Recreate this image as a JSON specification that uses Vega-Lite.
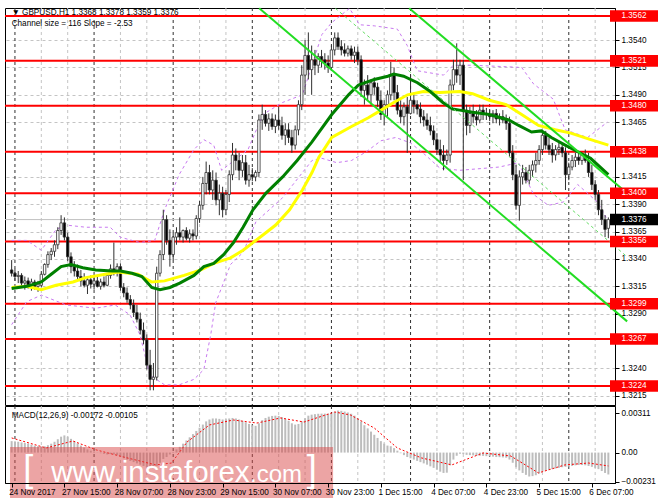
{
"$schema": "https://vega.github.io/schema/vega-lite/v6.json",
"background": "white",
"padding": {"left": 3, "top": 3, "right": 0, "bottom": 0},
"spacing": 1,
"bounds": "flush",
"config": {
  "view": {"stroke": "black", "strokeWidth": 1},
  "axis": {"labelFont": "Liberation Sans", "labelFontSize": 8.2, "labelColor": "#000000", "tickColor": "#000000", "domainColor": "#000000", "tickWidth": 1, "domainWidth": 1, "labelOverlap": false, "labelFlush": false, "labelBound": false, "labelSeparation": 0},
  "text": {"font": "Liberation Sans"}
},
"datasets": {
  "bars": [
{"i":0,"o":1.3330,"h":1.3339,"l":1.3324,"c":1.3327,"m":0.0009},
{"i":1,"o":1.3327,"h":1.3331,"l":1.3320,"c":1.3324,"m":0.00088},
{"i":2,"o":1.3324,"h":1.3329,"l":1.3318,"c":1.3325,"m":0.00085},
{"i":3,"o":1.3325,"h":1.3327,"l":1.3315,"c":1.3318,"m":0.0008},
{"i":4,"o":1.3318,"h":1.3324,"l":1.3312,"c":1.3320,"m":0.00075},
{"i":5,"o":1.3320,"h":1.3323,"l":1.3313,"c":1.3316,"m":0.0007},
{"i":6,"o":1.3316,"h":1.3322,"l":1.3311,"c":1.3319,"m":0.00062},
{"i":7,"o":1.3319,"h":1.3321,"l":1.3312,"c":1.3315,"m":0.00055},
{"i":8,"o":1.3315,"h":1.3320,"l":1.3310,"c":1.3317,"m":0.0005},
{"i":9,"o":1.3316,"h":1.3329,"l":1.3314,"c":1.3326,"m":0.00048},
{"i":10,"o":1.3326,"h":1.3336,"l":1.3325,"c":1.3335,"m":0.0005},
{"i":11,"o":1.3335,"h":1.3347,"l":1.3332,"c":1.3344,"m":0.00058},
{"i":12,"o":1.3344,"h":1.3350,"l":1.3339,"c":1.3347,"m":0.0007},
{"i":13,"o":1.3347,"h":1.3357,"l":1.3342,"c":1.3353,"m":0.00085},
{"i":14,"o":1.3353,"h":1.3369,"l":1.3349,"c":1.3366,"m":0.00105},
{"i":15,"o":1.3366,"h":1.3380,"l":1.3362,"c":1.3373,"m":0.00125},
{"i":16,"o":1.3373,"h":1.3378,"l":1.3357,"c":1.3360,"m":0.00135},
{"i":17,"o":1.3360,"h":1.3364,"l":1.3338,"c":1.3342,"m":0.00125},
{"i":18,"o":1.3342,"h":1.3346,"l":1.3327,"c":1.3333,"m":0.00108},
{"i":19,"o":1.3333,"h":1.3338,"l":1.3324,"c":1.3329,"m":0.0009},
{"i":20,"o":1.3329,"h":1.3335,"l":1.3320,"c":1.3324,"m":0.00072},
{"i":21,"o":1.3324,"h":1.3330,"l":1.3315,"c":1.3320,"m":0.00055},
{"i":22,"o":1.3320,"h":1.3327,"l":1.3314,"c":1.3316,"m":0.0004},
{"i":23,"o":1.3316,"h":1.3324,"l":1.3308,"c":1.3321,"m":0.00025},
{"i":24,"o":1.3321,"h":1.3325,"l":1.3313,"c":1.3317,"m":0.00015},
{"i":25,"o":1.3317,"h":1.3325,"l":1.3312,"c":1.3320,"m":0.00008},
{"i":26,"o":1.3320,"h":1.3324,"l":1.3314,"c":1.3315,"m":0.00002},
{"i":27,"o":1.3315,"h":1.3322,"l":1.3312,"c":1.3319,"m":-0.00005},
{"i":28,"o":1.3319,"h":1.3324,"l":1.3314,"c":1.3316,"m":-0.0001},
{"i":29,"o":1.3316,"h":1.3327,"l":1.3315,"c":1.3325,"m":-0.00015},
{"i":30,"o":1.3325,"h":1.3335,"l":1.3322,"c":1.3331,"m":-0.00012},
{"i":31,"o":1.3331,"h":1.3355,"l":1.3325,"c":1.3329,"m":-0.00015},
{"i":32,"o":1.3329,"h":1.3336,"l":1.3324,"c":1.3333,"m":-0.00022},
{"i":33,"o":1.3333,"h":1.3336,"l":1.3311,"c":1.3314,"m":-0.00035},
{"i":34,"o":1.3314,"h":1.3318,"l":1.3305,"c":1.3309,"m":-0.00045},
{"i":35,"o":1.3309,"h":1.3314,"l":1.3300,"c":1.3303,"m":-0.00055},
{"i":36,"o":1.3303,"h":1.3307,"l":1.3294,"c":1.3298,"m":-0.00065},
{"i":37,"o":1.3298,"h":1.3303,"l":1.3287,"c":1.3291,"m":-0.00075},
{"i":38,"o":1.3291,"h":1.3298,"l":1.3282,"c":1.3285,"m":-0.00085},
{"i":39,"o":1.3285,"h":1.3291,"l":1.3271,"c":1.3275,"m":-0.00095},
{"i":40,"o":1.3275,"h":1.3282,"l":1.3262,"c":1.3266,"m":-0.00105},
{"i":41,"o":1.3266,"h":1.3271,"l":1.3239,"c":1.3243,"m":-0.00115},
{"i":42,"o":1.3243,"h":1.3257,"l":1.3220,"c":1.3230,"m":-0.00125},
{"i":43,"o":1.3230,"h":1.3245,"l":1.3220,"c":1.3232,"m":-0.00125},
{"i":44,"o":1.3232,"h":1.3333,"l":1.3229,"c":1.3327,"m":-0.00105},
{"i":45,"o":1.3327,"h":1.3348,"l":1.3324,"c":1.3344,"m":-0.0008},
{"i":46,"o":1.3344,"h":1.3385,"l":1.3339,"c":1.3376,"m":-0.0005},
{"i":47,"o":1.3376,"h":1.3380,"l":1.3353,"c":1.3357,"m":-0.00035},
{"i":48,"o":1.3357,"h":1.3367,"l":1.3333,"c":1.3344,"m":-0.00015},
{"i":49,"o":1.3344,"h":1.3364,"l":1.3339,"c":1.3360,"m":0.00005},
{"i":50,"o":1.3360,"h":1.3369,"l":1.3353,"c":1.3364,"m":0.00025},
{"i":51,"o":1.3364,"h":1.3378,"l":1.3357,"c":1.3360,"m":0.00045},
{"i":52,"o":1.3360,"h":1.3367,"l":1.3355,"c":1.3366,"m":0.0007},
{"i":53,"o":1.3366,"h":1.3369,"l":1.3357,"c":1.3359,"m":0.00095},
{"i":54,"o":1.3359,"h":1.3367,"l":1.3355,"c":1.3363,"m":0.0012},
{"i":55,"o":1.3363,"h":1.3367,"l":1.3357,"c":1.3361,"m":0.00145},
{"i":56,"o":1.3361,"h":1.3380,"l":1.3358,"c":1.3377,"m":0.0017},
{"i":57,"o":1.3377,"h":1.3393,"l":1.3373,"c":1.3389,"m":0.00195},
{"i":58,"o":1.3389,"h":1.3415,"l":1.3385,"c":1.3409,"m":0.0022},
{"i":59,"o":1.3409,"h":1.3429,"l":1.3399,"c":1.3419,"m":0.00245},
{"i":60,"o":1.3419,"h":1.3426,"l":1.3399,"c":1.3403,"m":0.0026},
{"i":61,"o":1.3403,"h":1.3421,"l":1.3394,"c":1.3412,"m":0.00268},
{"i":62,"o":1.3412,"h":1.3419,"l":1.3389,"c":1.3394,"m":0.00268},
{"i":63,"o":1.3394,"h":1.3408,"l":1.3380,"c":1.3400,"m":0.00265},
{"i":64,"o":1.3400,"h":1.3406,"l":1.3378,"c":1.3385,"m":0.0026},
{"i":65,"o":1.3385,"h":1.3403,"l":1.3380,"c":1.3399,"m":0.00262},
{"i":66,"o":1.3399,"h":1.3421,"l":1.3392,"c":1.3417,"m":0.00268},
{"i":67,"o":1.3417,"h":1.3446,"l":1.3412,"c":1.3435,"m":0.00272},
{"i":68,"o":1.3435,"h":1.3441,"l":1.3421,"c":1.3430,"m":0.00268},
{"i":69,"o":1.3430,"h":1.3437,"l":1.3412,"c":1.3421,"m":0.0026},
{"i":70,"o":1.3421,"h":1.3435,"l":1.3415,"c":1.3428,"m":0.0025},
{"i":71,"o":1.3428,"h":1.3435,"l":1.3408,"c":1.3412,"m":0.00238},
{"i":72,"o":1.3412,"h":1.3426,"l":1.3406,"c":1.3417,"m":0.00225},
{"i":73,"o":1.3417,"h":1.3423,"l":1.3411,"c":1.3415,"m":0.00215},
{"i":74,"o":1.3415,"h":1.3421,"l":1.3411,"c":1.3419,"m":0.0021},
{"i":75,"o":1.3419,"h":1.3472,"l":1.3415,"c":1.3467,"m":0.0023},
{"i":76,"o":1.3467,"h":1.3481,"l":1.3458,"c":1.3472,"m":0.00255},
{"i":77,"o":1.3472,"h":1.3476,"l":1.3461,"c":1.3464,"m":0.00272},
{"i":78,"o":1.3464,"h":1.3473,"l":1.3457,"c":1.3468,"m":0.00282},
{"i":79,"o":1.3468,"h":1.3473,"l":1.3458,"c":1.3461,"m":0.00288},
{"i":80,"o":1.3461,"h":1.3472,"l":1.3455,"c":1.3467,"m":0.0029},
{"i":81,"o":1.3467,"h":1.3479,"l":1.3458,"c":1.3462,"m":0.00288},
{"i":82,"o":1.3462,"h":1.3470,"l":1.3449,"c":1.3453,"m":0.00278},
{"i":83,"o":1.3453,"h":1.3464,"l":1.3444,"c":1.3458,"m":0.00265},
{"i":84,"o":1.3458,"h":1.3464,"l":1.3446,"c":1.3451,"m":0.0025},
{"i":85,"o":1.3451,"h":1.3458,"l":1.3437,"c":1.3444,"m":0.0023},
{"i":86,"o":1.3444,"h":1.3462,"l":1.3440,"c":1.3458,"m":0.0022},
{"i":87,"o":1.3458,"h":1.3485,"l":1.3453,"c":1.3481,"m":0.00225},
{"i":88,"o":1.3481,"h":1.3517,"l":1.3476,"c":1.3508,"m":0.00245},
{"i":89,"o":1.3508,"h":1.3540,"l":1.3490,"c":1.3526,"m":0.0027},
{"i":90,"o":1.3526,"h":1.3547,"l":1.3504,"c":1.3513,"m":0.0029},
{"i":91,"o":1.3513,"h":1.3535,"l":1.3490,"c":1.3522,"m":0.00298},
{"i":92,"o":1.3522,"h":1.3531,"l":1.3508,"c":1.3517,"m":0.00302},
{"i":93,"o":1.3517,"h":1.3528,"l":1.3510,"c":1.3525,"m":0.00305},
{"i":94,"o":1.3525,"h":1.3531,"l":1.3515,"c":1.3522,"m":0.00306},
{"i":95,"o":1.3522,"h":1.3528,"l":1.3513,"c":1.3519,"m":0.00306},
{"i":96,"o":1.3519,"h":1.3526,"l":1.3510,"c":1.3515,"m":0.00305},
{"i":97,"o":1.3515,"h":1.3535,"l":1.3512,"c":1.3531,"m":0.00308},
{"i":98,"o":1.3531,"h":1.3547,"l":1.3526,"c":1.3542,"m":0.0032},
{"i":99,"o":1.3542,"h":1.3547,"l":1.3531,"c":1.3534,"m":0.0033},
{"i":100,"o":1.3534,"h":1.3540,"l":1.3526,"c":1.3531,"m":0.00328},
{"i":101,"o":1.3531,"h":1.3537,"l":1.3525,"c":1.3528,"m":0.00322},
{"i":102,"o":1.3528,"h":1.3535,"l":1.3525,"c":1.3532,"m":0.00315},
{"i":103,"o":1.3532,"h":1.3535,"l":1.3522,"c":1.3526,"m":0.00305},
{"i":104,"o":1.3526,"h":1.3534,"l":1.3519,"c":1.3529,"m":0.0029},
{"i":105,"o":1.3529,"h":1.3534,"l":1.3517,"c":1.3522,"m":0.00272},
{"i":106,"o":1.3522,"h":1.3526,"l":1.3488,"c":1.3494,"m":0.00245},
{"i":107,"o":1.3494,"h":1.3504,"l":1.3481,"c":1.3499,"m":0.00215},
{"i":108,"o":1.3499,"h":1.3508,"l":1.3485,"c":1.3490,"m":0.0019},
{"i":109,"o":1.3490,"h":1.3504,"l":1.3481,"c":1.3501,"m":0.00165},
{"i":110,"o":1.3501,"h":1.3506,"l":1.3490,"c":1.3497,"m":0.0014},
{"i":111,"o":1.3497,"h":1.3501,"l":1.3479,"c":1.3485,"m":0.00115},
{"i":112,"o":1.3485,"h":1.3494,"l":1.3467,"c":1.3472,"m":0.0009},
{"i":113,"o":1.3472,"h":1.3485,"l":1.3462,"c":1.3481,"m":0.0007},
{"i":114,"o":1.3481,"h":1.3494,"l":1.3470,"c":1.3490,"m":0.00055},
{"i":115,"o":1.3490,"h":1.3520,"l":1.3485,"c":1.3508,"m":0.0005},
{"i":116,"o":1.3508,"h":1.3515,"l":1.3485,"c":1.3492,"m":0.00035},
{"i":117,"o":1.3492,"h":1.3499,"l":1.3472,"c":1.3476,"m":0.00015},
{"i":118,"o":1.3476,"h":1.3485,"l":1.3464,"c":1.3470,"m":-0.00005},
{"i":119,"o":1.3470,"h":1.3483,"l":1.3462,"c":1.3479,"m":-0.0002},
{"i":120,"o":1.3479,"h":1.3488,"l":1.3437,"c":1.3473,"m":-0.00035},
{"i":121,"o":1.3473,"h":1.3508,"l":1.3472,"c":1.3485,"m":-0.00045},
{"i":122,"o":1.3485,"h":1.3492,"l":1.3473,"c":1.3481,"m":-0.00055},
{"i":123,"o":1.3481,"h":1.3485,"l":1.3472,"c":1.3477,"m":-0.00065},
{"i":124,"o":1.3477,"h":1.3483,"l":1.3464,"c":1.3470,"m":-0.00075},
{"i":125,"o":1.3470,"h":1.3476,"l":1.3461,"c":1.3467,"m":-0.00085},
{"i":126,"o":1.3467,"h":1.3473,"l":1.3458,"c":1.3462,"m":-0.00095},
{"i":127,"o":1.3462,"h":1.3470,"l":1.3453,"c":1.3457,"m":-0.00108},
{"i":128,"o":1.3457,"h":1.3462,"l":1.3444,"c":1.3449,"m":-0.0012},
{"i":129,"o":1.3449,"h":1.3455,"l":1.3435,"c":1.3440,"m":-0.00135},
{"i":130,"o":1.3440,"h":1.3449,"l":1.3428,"c":1.3435,"m":-0.0015},
{"i":131,"o":1.3435,"h":1.3444,"l":1.3421,"c":1.3430,"m":-0.0016},
{"i":132,"o":1.3430,"h":1.3440,"l":1.3426,"c":1.3435,"m":-0.00158},
{"i":133,"o":1.3435,"h":1.3504,"l":1.3428,"c":1.3499,"m":-0.001},
{"i":134,"o":1.3499,"h":1.3522,"l":1.3494,"c":1.3513,"m":-0.00055},
{"i":135,"o":1.3513,"h":1.3537,"l":1.3501,"c":1.3508,"m":-0.00025},
{"i":136,"o":1.3508,"h":1.3522,"l":1.3499,"c":1.3517,"m":-0.0001},
{"i":137,"o":1.3517,"h":1.3522,"l":1.3412,"c":1.3476,"m":-0.00012},
{"i":138,"o":1.3476,"h":1.3481,"l":1.3453,"c":1.3462,"m":-0.00018},
{"i":139,"o":1.3462,"h":1.3479,"l":1.3455,"c":1.3473,"m":-0.0002},
{"i":140,"o":1.3473,"h":1.3481,"l":1.3464,"c":1.3470,"m":-0.00022},
{"i":141,"o":1.3470,"h":1.3476,"l":1.3462,"c":1.3467,"m":-0.00025},
{"i":142,"o":1.3467,"h":1.3481,"l":1.3464,"c":1.3476,"m":-0.00025},
{"i":143,"o":1.3476,"h":1.3481,"l":1.3467,"c":1.3473,"m":-0.00026},
{"i":144,"o":1.3473,"h":1.3478,"l":1.3467,"c":1.3472,"m":-0.00028},
{"i":145,"o":1.3472,"h":1.3477,"l":1.3466,"c":1.3470,"m":-0.0003},
{"i":146,"o":1.3470,"h":1.3476,"l":1.3464,"c":1.3473,"m":-0.00032},
{"i":147,"o":1.3473,"h":1.3477,"l":1.3464,"c":1.3468,"m":-0.00035},
{"i":148,"o":1.3468,"h":1.3473,"l":1.3462,"c":1.3470,"m":-0.00036},
{"i":149,"o":1.3470,"h":1.3476,"l":1.3464,"c":1.3467,"m":-0.00038},
{"i":150,"o":1.3467,"h":1.3472,"l":1.3458,"c":1.3464,"m":-0.0004},
{"i":151,"o":1.3464,"h":1.3470,"l":1.3433,"c":1.3437,"m":-0.00055},
{"i":152,"o":1.3437,"h":1.3444,"l":1.3412,"c":1.3417,"m":-0.0008},
{"i":153,"o":1.3417,"h":1.3426,"l":1.3385,"c":1.3389,"m":-0.00115},
{"i":154,"o":1.3389,"h":1.3421,"l":1.3375,"c":1.3415,"m":-0.0014},
{"i":155,"o":1.3415,"h":1.3426,"l":1.3408,"c":1.3419,"m":-0.0016},
{"i":156,"o":1.3419,"h":1.3424,"l":1.3409,"c":1.3412,"m":-0.00175},
{"i":157,"o":1.3412,"h":1.3426,"l":1.3408,"c":1.3421,"m":-0.00188},
{"i":158,"o":1.3421,"h":1.3430,"l":1.3415,"c":1.3426,"m":-0.00185},
{"i":159,"o":1.3426,"h":1.3437,"l":1.3419,"c":1.3430,"m":-0.00178},
{"i":160,"o":1.3430,"h":1.3444,"l":1.3426,"c":1.3440,"m":-0.00165},
{"i":161,"o":1.3440,"h":1.3458,"l":1.3435,"c":1.3453,"m":-0.0015},
{"i":162,"o":1.3453,"h":1.3457,"l":1.3440,"c":1.3444,"m":-0.00142},
{"i":163,"o":1.3444,"h":1.3451,"l":1.3435,"c":1.3440,"m":-0.00135},
{"i":164,"o":1.3440,"h":1.3446,"l":1.3428,"c":1.3435,"m":-0.0013},
{"i":165,"o":1.3435,"h":1.3444,"l":1.3430,"c":1.3440,"m":-0.00125},
{"i":166,"o":1.3440,"h":1.3446,"l":1.3435,"c":1.3442,"m":-0.0012},
{"i":167,"o":1.3442,"h":1.3446,"l":1.3433,"c":1.3437,"m":-0.00115},
{"i":168,"o":1.3437,"h":1.3442,"l":1.3403,"c":1.3417,"m":-0.00112},
{"i":169,"o":1.3417,"h":1.3428,"l":1.3412,"c":1.3424,"m":-0.0011},
{"i":170,"o":1.3424,"h":1.3435,"l":1.3421,"c":1.3430,"m":-0.00105},
{"i":171,"o":1.3430,"h":1.3437,"l":1.3424,"c":1.3433,"m":-0.001},
{"i":172,"o":1.3433,"h":1.3437,"l":1.3426,"c":1.3430,"m":-0.00098},
{"i":173,"o":1.3430,"h":1.3437,"l":1.3426,"c":1.3435,"m":-0.00098},
{"i":174,"o":1.3435,"h":1.3440,"l":1.3428,"c":1.3430,"m":-0.001},
{"i":175,"o":1.3430,"h":1.3437,"l":1.3415,"c":1.3419,"m":-0.00105},
{"i":176,"o":1.3419,"h":1.3426,"l":1.3403,"c":1.3408,"m":-0.00112},
{"i":177,"o":1.3408,"h":1.3412,"l":1.3394,"c":1.3399,"m":-0.0012},
{"i":178,"o":1.3399,"h":1.3403,"l":1.3380,"c":1.3385,"m":-0.0013},
{"i":179,"o":1.3385,"h":1.3394,"l":1.3371,"c":1.3376,"m":-0.00145},
{"i":180,"o":1.3376,"h":1.3380,"l":1.3360,"c":1.3367,"m":-0.0016},
{"i":181,"o":1.3368,"h":1.3378,"l":1.3359,"c":1.3376,"m":-0.00172}
  ],
  "ln": [
{"s":"g","i":0,"p":1.3313},{"s":"g","i":4.6,"p":1.3315},{"s":"g","i":9,"p":1.3319},{"s":"g","i":12,"p":1.3326},{"s":"g","i":15,"p":1.3333},{"s":"g","i":18,"p":1.3335},{"s":"g","i":21.6,"p":1.3332},{"s":"g","i":25.5,"p":1.3330},{"s":"g","i":30.5,"p":1.3329},{"s":"g","i":33,"p":1.3329},{"s":"g","i":36.5,"p":1.3327},{"s":"g","i":39.5,"p":1.3324},{"s":"g","i":42.5,"p":1.3314},{"s":"g","i":45,"p":1.3312},{"s":"g","i":48,"p":1.3314},{"s":"g","i":51,"p":1.3318},{"s":"g","i":55.3,"p":1.3325},{"s":"g","i":58.3,"p":1.3333},{"s":"g","i":61.3,"p":1.3336},{"s":"g","i":64.3,"p":1.3344},{"s":"g","i":67.3,"p":1.3355},{"s":"g","i":70.2,"p":1.3369},{"s":"g","i":73.2,"p":1.3385},{"s":"g","i":77.1,"p":1.3400},{"s":"g","i":82.2,"p":1.3415},{"s":"g","i":86.6,"p":1.3430},{"s":"g","i":91.1,"p":1.3447},{"s":"g","i":97.1,"p":1.3472},{"s":"g","i":102.2,"p":1.3490},{"s":"g","i":105.2,"p":1.3499},{"s":"g","i":110,"p":1.3504},{"s":"g","i":114.1,"p":1.3507},{"s":"g","i":115.9,"p":1.3509},{"s":"g","i":118.9,"p":1.3507},{"s":"g","i":123.1,"p":1.3501},{"s":"g","i":127,"p":1.3493},{"s":"g","i":130.8,"p":1.3483},{"s":"g","i":133.8,"p":1.3477},{"s":"g","i":135.9,"p":1.3476},{"s":"g","i":139.8,"p":1.3474},{"s":"g","i":144.9,"p":1.3472},{"s":"g","i":150.8,"p":1.3467},{"s":"g","i":153.8,"p":1.3462},{"s":"g","i":157.7,"p":1.3456},{"s":"g","i":160.7,"p":1.3457},{"s":"g","i":163.7,"p":1.3451},{"s":"g","i":167.9,"p":1.3444},{"s":"g","i":171.7,"p":1.3438},{"s":"g","i":175.6,"p":1.3432},{"s":"g","i":181,"p":1.3417},
{"s":"y","i":0,"p":1.3314},{"s":"y","i":4.6,"p":1.3315},{"s":"y","i":9,"p":1.3312},{"s":"y","i":13.5,"p":1.3316},{"s":"y","i":18.6,"p":1.3319},{"s":"y","i":22.5,"p":1.3323},{"s":"y","i":28.4,"p":1.3326},{"s":"y","i":32.3,"p":1.3328},{"s":"y","i":38.3,"p":1.3326},{"s":"y","i":42.5,"p":1.3319},{"s":"y","i":46.4,"p":1.3320},{"s":"y","i":52.3,"p":1.3325},{"s":"y","i":57.4,"p":1.3330},{"s":"y","i":61.3,"p":1.3336},{"s":"y","i":66.4,"p":1.3341},{"s":"y","i":70.2,"p":1.3348},{"s":"y","i":73.2,"p":1.3355},{"s":"y","i":77.1,"p":1.3364},{"s":"y","i":80.1,"p":1.3371},{"s":"y","i":84.3,"p":1.3385},{"s":"y","i":88.2,"p":1.3403},{"s":"y","i":91.1,"p":1.3419},{"s":"y","i":93.2,"p":1.3433},{"s":"y","i":97.1,"p":1.3451},{"s":"y","i":103.1,"p":1.3461},{"s":"y","i":108.2,"p":1.3469},{"s":"y","i":112.1,"p":1.3476},{"s":"y","i":115.9,"p":1.3483},{"s":"y","i":120.1,"p":1.3490},{"s":"y","i":124.9,"p":1.3493},{"s":"y","i":129.9,"p":1.3492},{"s":"y","i":135.9,"p":1.3493},{"s":"y","i":139.8,"p":1.3491},{"s":"y","i":144.9,"p":1.3485},{"s":"y","i":150,"p":1.3481},{"s":"y","i":154.7,"p":1.3472},{"s":"y","i":159.8,"p":1.3462},{"s":"y","i":164.9,"p":1.3458},{"s":"y","i":169.6,"p":1.3455},{"s":"y","i":174.7,"p":1.3450},{"s":"y","i":181,"p":1.3444},
{"s":"bu","i":0,"p":1.3357},{"s":"bu","i":4.6,"p":1.3357},{"s":"bu","i":9,"p":1.3348},{"s":"bu","i":13.5,"p":1.3367},{"s":"bu","i":16.5,"p":1.3371},{"s":"bu","i":22.5,"p":1.3369},{"s":"bu","i":29.9,"p":1.3369},{"s":"bu","i":32.9,"p":1.3360},{"s":"bu","i":38.9,"p":1.3355},{"s":"bu","i":43.4,"p":1.3357},{"s":"bu","i":46.4,"p":1.3385},{"s":"bu","i":50.8,"p":1.3417},{"s":"bu","i":55.3,"p":1.3440},{"s":"bu","i":58.3,"p":1.3449},{"s":"bu","i":61.3,"p":1.3444},{"s":"bu","i":63.7,"p":1.3421},{"s":"bu","i":65.8,"p":1.3426},{"s":"bu","i":71.7,"p":1.3440},{"s":"bu","i":76.2,"p":1.3472},{"s":"bu","i":82.2,"p":1.3483},{"s":"bu","i":88.2,"p":1.3490},{"s":"bu","i":91.1,"p":1.3517},{"s":"bu","i":94.1,"p":1.3545},{"s":"bu","i":97.1,"p":1.3556},{"s":"bu","i":102.5,"p":1.3569},{"s":"bu","i":105.5,"p":1.3554},{"s":"bu","i":110,"p":1.3553},{"s":"bu","i":117,"p":1.3550},{"s":"bu","i":120,"p":1.3535},{"s":"bu","i":123,"p":1.3512},{"s":"bu","i":131,"p":1.3508},{"s":"bu","i":134,"p":1.3517},{"s":"bu","i":140,"p":1.3517},{"s":"bu","i":154.7,"p":1.3515},{"s":"bu","i":158.3,"p":1.3500},{"s":"bu","i":164.3,"p":1.3486},{"s":"bu","i":167.9,"p":1.3458},{"s":"bu","i":174.7,"p":1.3451},{"s":"bu","i":180.7,"p":1.3465},
{"s":"bl","i":0,"p":1.3280},{"s":"bl","i":4.6,"p":1.3301},{"s":"bl","i":9,"p":1.3307},{"s":"bl","i":16.5,"p":1.3298},{"s":"bl","i":25.5,"p":1.3295},{"s":"bl","i":31.4,"p":1.3298},{"s":"bl","i":35.9,"p":1.3289},{"s":"bl","i":38.9,"p":1.3271},{"s":"bl","i":41.9,"p":1.3234},{"s":"bl","i":46.4,"p":1.3225},{"s":"bl","i":50.8,"p":1.3225},{"s":"bl","i":55.3,"p":1.3230},{"s":"bl","i":58.3,"p":1.3239},{"s":"bl","i":60.4,"p":1.3271},{"s":"bl","i":61.9,"p":1.3300},{"s":"bl","i":66.4,"p":1.3335},{"s":"bl","i":70.2,"p":1.3346},{"s":"bl","i":74.1,"p":1.3374},{"s":"bl","i":82.2,"p":1.3396},{"s":"bl","i":91.1,"p":1.3430},{"s":"bl","i":94.1,"p":1.3432},{"s":"bl","i":98.6,"p":1.3428},{"s":"bl","i":103.1,"p":1.3430},{"s":"bl","i":107.6,"p":1.3438},{"s":"bl","i":112,"p":1.3448},{"s":"bl","i":116.5,"p":1.3451},{"s":"bl","i":121,"p":1.3446},{"s":"bl","i":125.5,"p":1.3435},{"s":"bl","i":129.9,"p":1.3423},{"s":"bl","i":135.9,"p":1.3421},{"s":"bl","i":147.9,"p":1.3424},{"s":"bl","i":153.8,"p":1.3428},{"s":"bl","i":158.3,"p":1.3399},{"s":"bl","i":162.8,"p":1.3389},{"s":"bl","i":167.3,"p":1.3392},{"s":"bl","i":171.7,"p":1.3408},{"s":"bl","i":177.7,"p":1.3392},{"s":"bl","i":180.7,"p":1.3376},
{"s":"cu","i":120.6,"p":1.3569},{"s":"cu","i":186.7,"p":1.3400},
{"s":"cm","i":98.2,"p":1.3569},{"s":"cm","i":186.7,"p":1.3342},
{"s":"cl","i":75.1,"p":1.3569},{"s":"cl","i":186.7,"p":1.3283}
  ],
  "vg": [{"i":1,"d":1},{"i":9,"d":0},{"i":17,"d":0},{"i":25,"d":1},{"i":33,"d":0},{"i":41,"d":0},{"i":49,"d":1},{"i":57,"d":0},{"i":65,"d":0},{"i":73,"d":1},{"i":81,"d":0},{"i":89,"d":0},{"i":97,"d":1},{"i":105,"d":0},{"i":113,"d":0},{"i":121,"d":1},{"i":129,"d":0},{"i":137,"d":0},{"i":145,"d":1},{"i":153,"d":0},{"i":161,"d":0},{"i":169,"d":1},{"i":177,"d":0}],
  "lv": [{"p":1.3562},{"p":1.3521},{"p":1.3480},{"p":1.3438},{"p":1.3400},{"p":1.3356},{"p":1.3299},{"p":1.3267},{"p":1.3224}],
  "sig": [{"i":0,"v":0.00115},{"i":10.5,"v":0.00036},{"i":18.6,"v":0.00091},{"i":25.8,"v":0.0002},{"i":34,"v":-0.00035},{"i":43.7,"v":-0.00097},{"i":48.5,"v":-0.00082},{"i":53.2,"v":0.00083},{"i":60,"v":0.00217},{"i":67.3,"v":0.00256},{"i":74.4,"v":0.00232},{"i":81.6,"v":0.00272},{"i":88.7,"v":0.0024},{"i":98,"v":0.00319},{"i":102.8,"v":0.00295},{"i":110,"v":0.00193},{"i":117,"v":0.00036},{"i":124.3,"v":-0.00042},{"i":133.5,"v":-0.00097},{"i":143,"v":-0.00003},{"i":151.4,"v":-0.00027},{"i":159.8,"v":-0.0016},{"i":167.8,"v":-0.00097},{"i":175,"v":-0.00082},{"i":181,"v":-0.00105}]
},
"vconcat": [
{
  "width": 610, "height": 397,
  "layer": [
    {"data": {"name": "vg"}, "transform": [{"filter": "datum.d == 0"}],
     "mark": {"type": "rule", "color": "#c4c4c4", "strokeDash": [3, 3], "strokeWidth": 1},
     "encoding": {"x": {"field": "i", "type": "quantitative", "scale": {"domain": [-0.5, 181.5], "nice": false, "zero": false}, "axis": null, "title": null}}},
    {"data": {"name": "vg"}, "transform": [{"filter": "datum.d == 1"}],
     "mark": {"type": "rule", "color": "#303030", "strokeDash": [3, 3], "strokeWidth": 1},
     "encoding": {"x": {"field": "i", "type": "quantitative", "scale": {"domain": [-0.5, 181.5], "nice": false, "zero": false}, "axis": null, "title": null}}},
    {"data": {"name": "lv"},
     "mark": {"type": "rule", "color": "#ff0000", "strokeWidth": 2},
     "encoding": {"y": {"field": "p", "type": "quantitative", "title": null, "scale": {"domain": [1.32066, 1.35693], "nice": false, "zero": false},
        "axis": {"orient": "right", "values": [1.3215, 1.324, 1.329, 1.3315, 1.334, 1.3365, 1.339, 1.3415, 1.3465, 1.349, 1.3515, 1.354], "tickCount": 40, "format": ".4f", "grid": true, "gridDash": [3, 3], "gridColor": "#c4c4c4", "tickSize": 4, "labelPadding": 2, "labelOverlap": false, "labelFlush": false, "labelBound": false, "title": null}}}},
    {"data": {"name": "ln"}, "transform": [{"filter": "datum.s == 'bu' || datum.s == 'bl'"}],
     "mark": {"type": "line", "color": "#c879f0", "strokeWidth": 1, "strokeDash": [3, 3], "clip": true},
     "encoding": {"x": {"field": "i", "type": "quantitative", "scale": {"domain": [-0.5, 181.5], "nice": false, "zero": false}, "axis": null, "title": null},
       "y": {"field": "p", "type": "quantitative", "scale": {"domain": [1.32066, 1.35693], "nice": false, "zero": false}, "title": null},
       "detail": {"field": "s"}}},
    {"data": {"values": [{}]},
     "mark": {"type": "rule", "color": "#c0c0c0", "strokeWidth": 1},
     "encoding": {"y": {"datum": 1.3376, "scale": {"domain": [1.32066, 1.35693], "nice": false, "zero": false}, "title": null}}},
    {"data": {"name": "bars"},
     "mark": {"type": "rule", "color": "#303030", "strokeWidth": 1},
     "encoding": {"x": {"field": "i", "type": "quantitative", "scale": {"domain": [-0.5, 181.5], "nice": false, "zero": false}, "axis": null, "title": null},
       "y": {"field": "l", "type": "quantitative", "scale": {"domain": [1.32066, 1.35693], "nice": false, "zero": false}, "title": null},
       "y2": {"field": "h"}}},
    {"data": {"name": "bars"},
     "mark": {"type": "bar", "width": 2.4, "stroke": "#303030", "strokeWidth": 0.8},
     "encoding": {"x": {"field": "i", "type": "quantitative", "scale": {"domain": [-0.5, 181.5], "nice": false, "zero": false}, "axis": null, "title": null},
       "y": {"field": "o", "type": "quantitative", "scale": {"domain": [1.32066, 1.35693], "nice": false, "zero": false}, "title": null},
       "y2": {"field": "c"},
       "fill": {"condition": {"test": "datum.c >= datum.o", "value": "#ffffff"}, "value": "#000000"}}},
    {"data": {"name": "ln"}, "transform": [{"filter": "datum.s == 'y'"}],
     "mark": {"type": "line", "color": "#ffff00", "strokeWidth": 3},
     "encoding": {"x": {"field": "i", "type": "quantitative", "scale": {"domain": [-0.5, 181.5], "nice": false, "zero": false}, "axis": null, "title": null},
       "y": {"field": "p", "type": "quantitative", "scale": {"domain": [1.32066, 1.35693], "nice": false, "zero": false}, "title": null}}},
    {"data": {"name": "ln"}, "transform": [{"filter": "datum.s == 'g'"}],
     "mark": {"type": "line", "color": "#008000", "strokeWidth": 3},
     "encoding": {"x": {"field": "i", "type": "quantitative", "scale": {"domain": [-0.5, 181.5], "nice": false, "zero": false}, "axis": null, "title": null},
       "y": {"field": "p", "type": "quantitative", "scale": {"domain": [1.32066, 1.35693], "nice": false, "zero": false}, "title": null}}},
    {"data": {"name": "ln"}, "transform": [{"filter": "datum.s == 'cu' || datum.s == 'cl'"}],
     "mark": {"type": "line", "color": "#22dd22", "strokeWidth": 2},
     "encoding": {"x": {"field": "i", "type": "quantitative", "scale": {"domain": [-0.5, 181.5], "nice": false, "zero": false}, "axis": null, "title": null},
       "y": {"field": "p", "type": "quantitative", "scale": {"domain": [1.32066, 1.35693], "nice": false, "zero": false}, "title": null},
       "detail": {"field": "s"}}},
    {"data": {"name": "ln"}, "transform": [{"filter": "datum.s == 'cm'"}],
     "mark": {"type": "line", "color": "#66dd66", "strokeWidth": 1, "strokeDash": [3, 3]},
     "encoding": {"x": {"field": "i", "type": "quantitative", "scale": {"domain": [-0.5, 181.5], "nice": false, "zero": false}, "axis": null, "title": null},
       "y": {"field": "p", "type": "quantitative", "scale": {"domain": [1.32066, 1.35693], "nice": false, "zero": false}, "title": null}}},
    {"data": {"name": "lv"},
     "mark": {"type": "point", "shape": "M0,-0.24L2,-0.24L2,0.24L0,0.24Z", "size": 2304, "filled": true, "color": "#ff0000", "opacity": 1, "strokeWidth": 0},
     "encoding": {"x": {"datum": 181.5, "scale": {"domain": [-0.5, 181.5], "nice": false, "zero": false}, "axis": null, "title": null},
       "y": {"field": "p", "type": "quantitative", "scale": {"domain": [1.32066, 1.35693], "nice": false, "zero": false}, "title": null}}},
    {"data": {"name": "lv"},
     "mark": {"type": "text", "color": "#ffffff", "fontSize": 8.2, "align": "center", "baseline": "middle", "dx": 24},
     "encoding": {"x": {"datum": 181.5, "scale": {"domain": [-0.5, 181.5], "nice": false, "zero": false}, "axis": null, "title": null},
       "y": {"field": "p", "type": "quantitative", "scale": {"domain": [1.32066, 1.35693], "nice": false, "zero": false}, "title": null},
       "text": {"field": "p", "type": "quantitative", "format": ".4f"}}},
    {"data": {"values": [{}]},
     "mark": {"type": "point", "shape": "M0,-0.24L2,-0.24L2,0.24L0,0.24Z", "size": 2304, "filled": true, "color": "#000000", "opacity": 1, "strokeWidth": 0},
     "encoding": {"x": {"datum": 181.5, "scale": {"domain": [-0.5, 181.5], "nice": false, "zero": false}, "axis": null, "title": null},
       "y": {"datum": 1.3376, "scale": {"domain": [1.32066, 1.35693], "nice": false, "zero": false}, "title": null}}},
    {"data": {"values": [{}]},
     "mark": {"type": "text", "color": "#ffffff", "fontSize": 8.2, "align": "center", "baseline": "middle", "dx": 24, "text": "1.3376"},
     "encoding": {"x": {"datum": 181.5, "scale": {"domain": [-0.5, 181.5], "nice": false, "zero": false}, "axis": null, "title": null},
       "y": {"datum": 1.3376, "scale": {"domain": [1.32066, 1.35693], "nice": false, "zero": false}, "title": null}}},
    {"data": {"values": [{}]},
     "mark": {"type": "text", "color": "#000000", "fontSize": 8.2, "align": "left", "baseline": "middle", "text": "▼  GBPUSD,H1  1.3368 1.3378 1.3359 1.3376"},
     "encoding": {"x": {"datum": 0, "scale": {"domain": [-0.5, 181.5], "nice": false, "zero": false}, "axis": null, "title": null},
       "y": {"datum": 1.35647, "scale": {"domain": [1.32066, 1.35693], "nice": false, "zero": false}, "title": null}}},
    {"data": {"values": [{}]},
     "mark": {"type": "text", "color": "#000000", "fontSize": 8.2, "align": "left", "baseline": "middle", "text": "Channel size = 116 Slope = -2.53"},
     "encoding": {"x": {"datum": 0, "scale": {"domain": [-0.5, 181.5], "nice": false, "zero": false}, "axis": null, "title": null},
       "y": {"datum": 1.35546, "scale": {"domain": [1.32066, 1.35693], "nice": false, "zero": false}, "title": null}}}
  ]
},
{
  "width": 610, "height": 77,
  "layer": [
    {"data": {"name": "vg"}, "transform": [{"filter": "datum.d == 0"}],
     "mark": {"type": "rule", "color": "#c4c4c4", "strokeDash": [3, 3], "strokeWidth": 1},
     "encoding": {"x": {"field": "i", "type": "quantitative", "scale": {"domain": [-0.5, 181.5], "nice": false, "zero": false}, "title": null}}},
    {"data": {"name": "vg"}, "transform": [{"filter": "datum.d == 1"}],
     "mark": {"type": "rule", "color": "#303030", "strokeDash": [3, 3], "strokeWidth": 1},
     "encoding": {"x": {"field": "i", "type": "quantitative", "scale": {"domain": [-0.5, 181.5], "nice": false, "zero": false}, "title": null}}},
    {"data": {"name": "bars"},
     "mark": {"type": "bar", "width": 2, "color": "#bdbdbd"},
     "encoding": {"x": {"field": "i", "type": "quantitative", "title": null, "scale": {"domain": [-0.5, 181.5], "nice": false, "zero": false},
         "axis": {"values": [0, 16, 32, 48, 64, 80, 96, 112, 128, 144, 160, 176], "tickCount": 40, "labelExpr": "['24 Nov 2017','27 Nov 15:00','28 Nov 07:00','28 Nov 23:00','29 Nov 15:00','30 Nov 07:00','30 Nov 23:00','1 Dec 15:00','4 Dec 07:00','4 Dec 23:00','5 Dec 15:00','6 Dec 07:00'][round(datum.value / 16)]", "labelAlign": "left", "labelOffset": -3, "tickSize": 4, "labelPadding": 1, "grid": false, "labelOverlap": false, "labelFlush": false, "labelBound": false, "zindex": 1, "title": null}},
       "y": {"field": "m", "type": "quantitative", "title": null, "scale": {"domain": [-0.00239, 0.00366], "nice": false, "zero": false},
         "axis": {"orient": "right", "values": [0.00311, 0, -0.00231], "tickCount": 10, "labelExpr": "datum.value == 0 ? '0.00' : format(datum.value, '.5f')", "grid": false, "tickSize": 4, "labelPadding": 2, "labelOverlap": false, "labelFlush": false, "labelBound": false, "title": null}},
       "y2": {"datum": 0}}},
    {"data": {"name": "sig"},
     "mark": {"type": "line", "color": "#ff0000", "strokeWidth": 1, "strokeDash": [2, 2]},
     "encoding": {"x": {"field": "i", "type": "quantitative", "scale": {"domain": [-0.5, 181.5], "nice": false, "zero": false}, "title": null},
       "y": {"field": "v", "type": "quantitative", "scale": {"domain": [-0.00239, 0.00366], "nice": false, "zero": false}, "title": null}}},
    {"data": {"values": [{}]},
     "mark": {"type": "text", "color": "#000000", "fontSize": 8.2, "align": "left", "baseline": "middle", "text": "MACD(12,26,9) -0.00172 -0.00105"},
     "encoding": {"x": {"datum": 0, "scale": {"domain": [-0.5, 181.5], "nice": false, "zero": false}, "title": null},
       "y": {"datum": 0.00287, "scale": {"domain": [-0.00239, 0.00366], "nice": false, "zero": false}, "title": null}}},
    {"data": {"values": [{}]},
     "mark": {"type": "rect", "color": "#d94a4a", "opacity": 0.5},
     "encoding": {"x": {"datum": -0.5, "scale": {"domain": [-0.5, 181.5], "nice": false, "zero": false}, "title": null},
       "x2": {"datum": 97.5},
       "y": {"datum": 0.00044, "scale": {"domain": [-0.00239, 0.00366], "nice": false, "zero": false}, "title": null},
       "y2": {"datum": -0.00356}}},
    {"data": {"values": [{}]},
     "mark": {"type": "text", "color": "#ffffff", "fontSize": 36, "font": "Liberation Sans", "align": "left", "baseline": "alphabetic", "text": "["},
     "encoding": {"x": {"datum": 3.5, "scale": {"domain": [-0.5, 181.5], "nice": false, "zero": false}, "title": null},
       "y": {"datum": -0.00223, "scale": {"domain": [-0.00239, 0.00366], "nice": false, "zero": false}, "title": null}}},
    {"data": {"values": [{}]},
     "mark": {"type": "text", "color": "#ffffff", "fontSize": 29.5, "font": "Liberation Sans", "align": "left", "baseline": "alphabetic", "text": "www.instaforex"},
     "encoding": {"x": {"datum": 12, "scale": {"domain": [-0.5, 181.5], "nice": false, "zero": false}, "title": null},
       "y": {"datum": -0.00235, "scale": {"domain": [-0.00239, 0.00366], "nice": false, "zero": false}, "title": null}}},
    {"data": {"values": [{}]},
     "mark": {"type": "text", "color": "#ffffff", "fontSize": 24, "font": "Liberation Sans", "align": "left", "baseline": "alphabetic", "text": ".com"},
     "encoding": {"x": {"datum": 72.3, "scale": {"domain": [-0.5, 181.5], "nice": false, "zero": false}, "title": null},
       "y": {"datum": -0.00235, "scale": {"domain": [-0.00239, 0.00366], "nice": false, "zero": false}, "title": null}}},
    {"data": {"values": [{}]},
     "mark": {"type": "text", "color": "#ffffff", "fontSize": 36, "font": "Liberation Sans", "align": "left", "baseline": "alphabetic", "text": "]"},
     "encoding": {"x": {"datum": 89.5, "scale": {"domain": [-0.5, 181.5], "nice": false, "zero": false}, "title": null},
       "y": {"datum": -0.00223, "scale": {"domain": [-0.00239, 0.00366], "nice": false, "zero": false}, "title": null}}}
  ]
}
]
}
